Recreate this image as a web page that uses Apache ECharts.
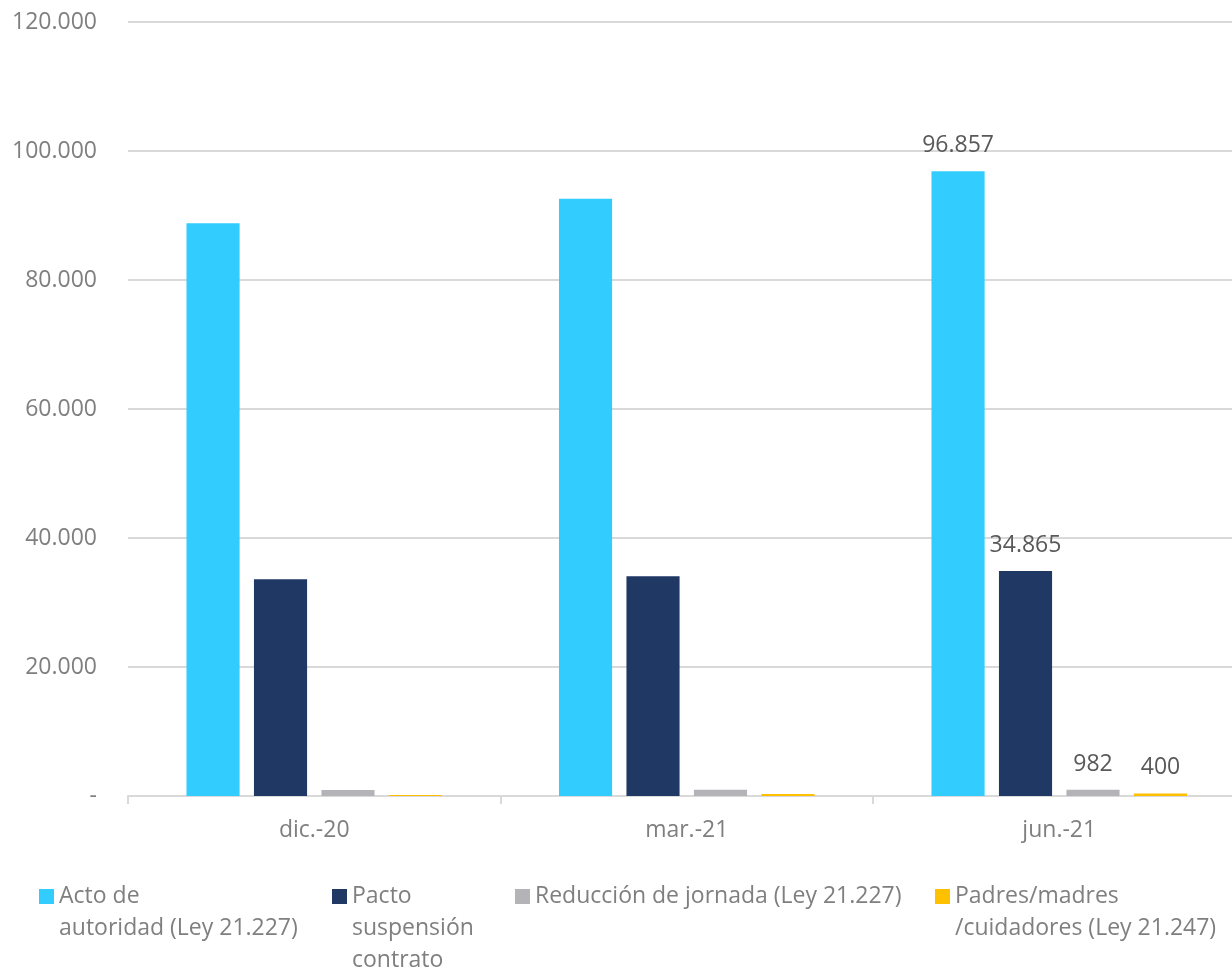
<!DOCTYPE html>
<html>
<head>
<meta charset="utf-8">
<script src="https://cdn.jsdelivr.net/npm/echarts@6/dist/echarts.min.js"></script>
<style>
html,body{margin:0;padding:0;background:#fff;}
#chart{width:1232px;height:971px;}
</style>
</head>
<body>
<div id="chart"></div>
<script>
const categories = ['dic.-20', 'mar.-21', 'jun.-21'];
const seriesNames = [
  'Acto de autoridad (Ley 21.227)',
  'Pacto suspensión contrato',
  'Reducción de jornada (Ley 21.227)',
  'Padres/madres /cuidadores (Ley 21.247)'
];
const legendLines = [
  ['Acto de', 'autoridad (Ley 21.227)'],
  ['Pacto', 'suspensión', 'contrato'],
  ['Reducción de jornada (Ley 21.227)'],
  ['Padres/madres', '/cuidadores (Ley 21.247)']
];
const actoAutoridad = [88800, 92600, 96857];
const pactoSuspension = [33600, 34060, 34865];
const reduccionJornada = [930, 960, 982];
const padresMadres = [160, 300, 400];
const labeledCategory = 'jun.-21';
const colors = ['#33CCFF', '#203864', '#B4B4B8', '#FFC000'];

const FONT = '"Open Sans"';
const FS = 23;
const AXIS_GREY = '#7f7f7f';

function fmt(v) {
  if (v === 0) return '-';
  return String(Math.round(v)).replace(/\B(?=(\d{3})+(?!\d))/g, '.');
}

const allValues = [actoAutoridad, pactoSuspension, reduccionJornada, padresMadres];

const series = allValues.map((vals, si) => ({
  name: seriesNames[si],
  type: 'bar',
  barCategoryGap: '31.4%',
  barGap: '27%',
  itemStyle: { color: colors[si] },
  label: {
    show: false,
    position: 'top',
    distance: 14,
    fontFamily: FONT,
    fontSize: FS,
    color: '#595959',
    formatter: p => fmt(p.value)
  },
  data: vals.map((v, i) => ({
    value: v,
    label: { show: categories[i] === labeledCategory }
  }))
}));

const iconLefts = [39, 332, 515, 935];
const iconCenterY = 896.5;
const LH = 32;
const legends = seriesNames.map((name, i) => {
  const n = legendLines[i].length;
  return {
    data: [name],
    left: iconLefts[i],
    top: iconCenterY - (LH / 2) * (2 * n - 1),
    padding: 0,
    itemWidth: 15,
    itemHeight: 15,
    icon: 'rect',
    textStyle: {
      fontFamily: FONT,
      fontSize: FS,
      color: AXIS_GREY,
      lineHeight: LH
    },
    formatter: () => '\n'.repeat(n - 1) + legendLines[i].join('\n')
  };
});

const chart = echarts.init(document.getElementById('chart'), null, { renderer: 'canvas' });
chart.setOption({
  animation: false,
  backgroundColor: '#ffffff',
  textStyle: { fontFamily: FONT },
  grid: { left: 128, top: 22, width: 1117.5, height: 774, containLabel: false, outerBoundsMode: 'none' },
  legend: legends,
  xAxis: {
    type: 'category',
    data: categories,
    axisLine: { show: true, lineStyle: { color: '#D9D9D9', width: 2 } },
    axisTick: { show: true, alignWithLabel: false, length: 8, lineStyle: { color: '#D9D9D9', width: 2 } },
    axisLabel: { fontFamily: FONT, fontSize: FS, color: AXIS_GREY, margin: 23 }
  },
  yAxis: {
    type: 'value',
    min: 0,
    max: 120000,
    interval: 20000,
    axisLine: { show: false },
    axisTick: { show: false },
    splitLine: { lineStyle: { color: '#D9D9D9', width: 2 } },
    axisLabel: { fontFamily: FONT, fontSize: FS, color: AXIS_GREY, margin: 31, formatter: v => fmt(v) }
  },
  series: series
});
</script>
</body>
</html>
